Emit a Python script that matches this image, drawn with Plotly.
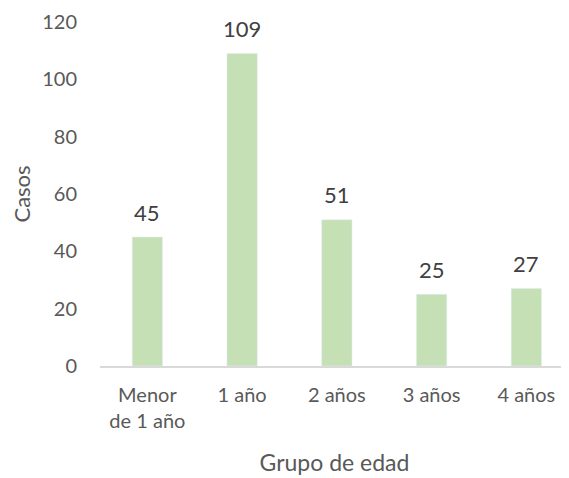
import plotly.graph_objects as go

grupos = ['Menor<br>de 1 año', '1 año', '2 años', '3 años', '4 años']
casos = [45, 109, 51, 25, 27]
y_ticks = [0, 20, 40, 60, 80, 100, 120]

font_family = 'Lato, Open Sans, sans-serif'

fig = go.Figure(go.Bar(
    x=list(range(len(grupos))),
    y=casos,
    marker_color='#C5E0B4',
    width=0.32,
))

# data labels above each bar
for i, v in enumerate(casos):
    fig.add_annotation(
        x=i, y=v, text=str(v),
        showarrow=False,
        yanchor='middle',
        yshift=25,
        font=dict(size=22, color='#404040'),
    )

# the page body adds an 8px offset, so the figure is drawn 8px smaller
fig.update_layout(
    width=561,
    height=470,
    margin=dict(l=92, r=0, t=14, b=112),
    plot_bgcolor='white',
    paper_bgcolor='white',
    font=dict(family=font_family, size=20, color='#595959'),
    showlegend=False,
    xaxis=dict(
        tickmode='array',
        tickvals=list(range(len(grupos))),
        ticktext=grupos,
        range=[-0.5, 4.45],
        showline=True,
        linecolor='#D9D9D9',
        linewidth=1.5,
        showgrid=False,
        zeroline=False,
        ticks='',
        automargin=False,
        ticklabelstandoff=10,
        title=dict(text='Grupo de edad', font=dict(size=23, color='#595959'), standoff=24),
    ),
    yaxis=dict(
        range=[0, 120],
        tickmode='array',
        tickvals=y_ticks,
        showgrid=False,
        zeroline=False,
        showline=False,
        ticks='',
        automargin=False,
        ticklabelstandoff=22,
        title=dict(text='Casos', font=dict(size=22, color='#595959'), standoff=12),
    ),
)

fig.write_html("out.html")
